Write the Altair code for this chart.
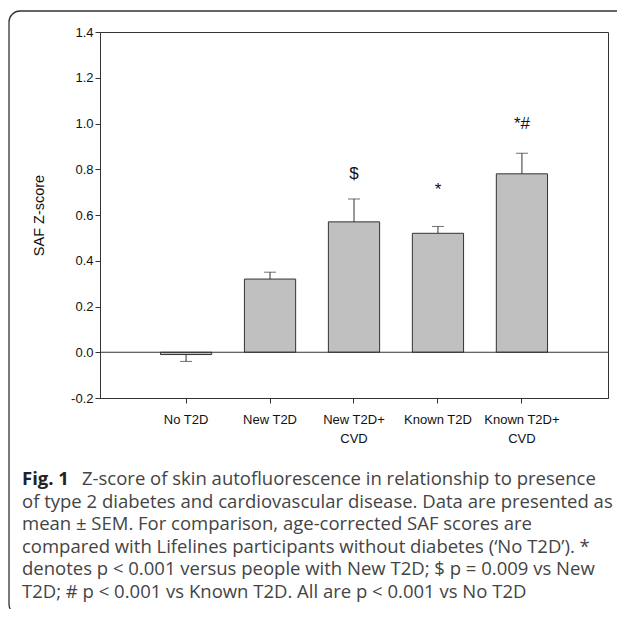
import altair as alt
import pandas as pd

categories = ["No T2D", "New T2D", "New T2D+\nCVD", "Known T2D", "Known T2D+\nCVD"]
means = [-0.01, 0.32, 0.57, 0.52, 0.78]
err_ends = [-0.04, 0.35, 0.67, 0.55, 0.87]
marks_txt = ["", "", "$", "*", "*#"]
marks_y = [None, None, 0.78, 0.71, 1.0]

caption_bold = "Fig. 1"
caption_lines = [
    "Z-score of skin autofluorescence in relationship to presence",
    "of type 2 diabetes and cardiovascular disease. Data are presented as",
    "mean \u00b1 SEM. For comparison, age-corrected SAF scores are",
    "compared with Lifelines participants without diabetes (\u2018No T2D\u2019). *",
    "denotes p < 0.001 versus people with New T2D; $ p = 0.009 vs New",
    "T2D; # p < 0.001 vs Known T2D. All are p < 0.001 vs No T2D",
]

df = pd.DataFrame({"cat": categories, "mean": means, "err": err_ends})
ann = pd.DataFrame({"cat": categories, "txt": marks_txt, "y": marks_y}).dropna()
one = pd.DataFrame({"k": [0]})

W, H = 508, 366
xs = alt.X("cat:N", sort=categories,
           scale=alt.Scale(paddingInner=0.39, paddingOuter=0.72),
           axis=alt.Axis(title=None, labelAngle=0, labelFont="Liberation Sans",
                         labelFontSize=13, labelColor="#111", labelPadding=10,
                         labelLineHeight=19, tickSize=5, tickColor="#333",
                         domainColor="#333", labelExpr="split(datum.label, '\\n')"))
ys = alt.Y("mean:Q", scale=alt.Scale(domain=[-0.2, 1.4], nice=False, zero=False),
           axis=alt.Axis(title="SAF Z-score", values=[-0.2, 0, 0.2, 0.4, 0.6, 0.8, 1.0, 1.2, 1.4],
                         labelExpr="replace(format(datum.value, '.1f'), '\u2212', '-')",
                         labelFont="Liberation Sans", labelFontSize=13, labelColor="#111",
                         titleFont="Liberation Sans", titleFontSize=14.5, titleFontWeight="normal",
                         titleColor="#111", titlePadding=24, tickSize=5, tickColor="#333",
                         domainColor="#333", grid=False))

base = alt.Chart(df)
bars = base.mark_bar(fill="#c0c0c0", stroke="#333", strokeWidth=1).encode(x=xs, y=ys)
rules = base.mark_rule(color="#333", strokeWidth=1).encode(
    x=alt.X("cat:N", sort=categories), y="mean:Q", y2="err:Q")
caps = base.mark_tick(color="#333", size=12, thickness=1, orient="horizontal").encode(
    x=alt.X("cat:N", sort=categories), y="err:Q")
zero = alt.Chart(pd.DataFrame({"z": [0.0]})).mark_rule(color="#333", strokeWidth=1).encode(y="z:Q")
annot = alt.Chart(ann).mark_text(font="Liberation Sans", fontSize=17, color="#111",
                                 baseline="middle").encode(
    x=alt.X("cat:N", sort=categories), y="y:Q", text="txt:N")

border = alt.Chart(one).mark_rect(fill="white", fillOpacity=0, stroke="#333", strokeWidth=1.3,
                                  cornerRadius=11).encode(
    x=alt.value(-91), x2=alt.value(540), y=alt.value(-21), y2=alt.value(583))

CAP_FS = 18.5
cap_x0 = -78
cap_y0 = 447
cap_dy = 22.5
layers = [border, bars, zero, rules, caps, annot]
layers.append(alt.Chart(one).mark_text(text=caption_bold, font="Open Sans", fontSize=CAP_FS,
                                       fontWeight="bold", color="#222", align="left",
                                       baseline="middle").encode(x=alt.value(cap_x0), y=alt.value(cap_y0)))
for i, line in enumerate(caption_lines):
    xpos = cap_x0 + 60 if i == 0 else cap_x0
    layers.append(alt.Chart(one).mark_text(text=line, font="Open Sans", fontSize=CAP_FS,
                                           fontWeight="normal", color="#444", align="left",
                                           baseline="middle").encode(
        x=alt.value(xpos), y=alt.value(cap_y0 + i * cap_dy)))

chart = alt.layer(*layers).properties(
    width=W, height=H,
    autosize=alt.AutoSizeParams(type="none"),
    padding={"left": 92, "top": 24, "right": 9, "bottom": 211},
).configure_view(stroke="#333", strokeWidth=1)

chart.save("out.html", embed_options={"renderer": "svg", "actions": False})
